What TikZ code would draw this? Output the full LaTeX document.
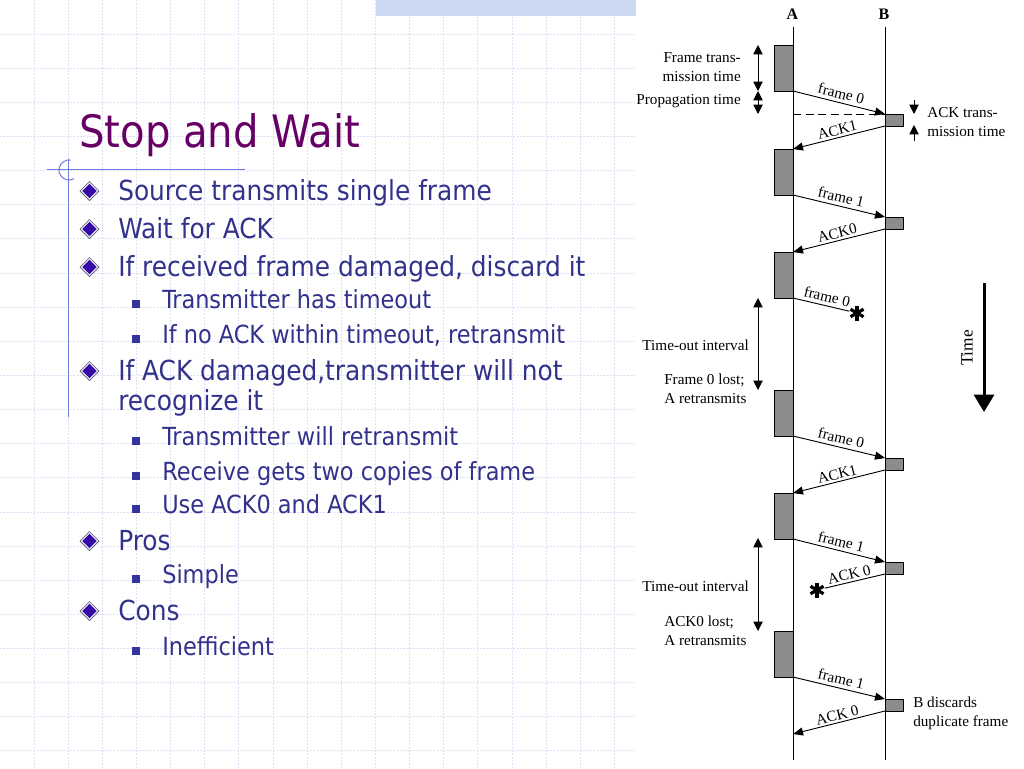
\documentclass[tikz,border=0pt]{standalone}
\usepackage{fontspec}
\setmainfont{DejaVu Sans Condensed}
\newfontfamily\serifdia{Liberation Serif}
\usetikzlibrary{arrows.meta}
\definecolor{gridc}{RGB}{221,223,245}
\definecolor{titlec}{RGB}{102,0,102}
\definecolor{bodyc}{RGB}{50,50,140}
\definecolor{decoc}{RGB}{110,125,220}
\definecolor{bandc}{RGB}{205,216,242}
\definecolor{boxc}{RGB}{140,140,140}
\definecolor{diainner}{RGB}{55,10,165}
\definecolor{diaring}{RGB}{232,232,246}
\definecolor{diaouter}{RGB}{95,95,120}
\definecolor{sqc}{RGB}{51,51,153}
\begin{document}
\begin{tikzpicture}[x=0.75pt,y=-0.75pt,
  gridline/.style={gridc, line width=0.75pt, dash pattern=on 1.5pt off 1pt},
  deco/.style={decoc, line width=0.75pt},
  titletext/.style={anchor=base west, inner sep=0, text=titlec, font=\fontsize{33.5}{36}\selectfont},
  bodyone/.style={anchor=base west, inner sep=0, text=bodyc, align=left, font=\fontsize{20.7}{22.5}\selectfont},
  bodytwo/.style={anchor=base west, inner sep=0, text=bodyc, font=\fontsize{18.7}{22}\selectfont},
  sqbullet/.style={fill=sqc, inner sep=0, minimum size=6pt},
  diab/.pic={
    \fill[diaouter] (0,-10) -- (10,0) -- (0,10) -- (-10,0) -- cycle;
    \fill[diaring] (0,-8.8) -- (8.8,0) -- (0,8.8) -- (-8.8,0) -- cycle;
    \fill[diainner] (0,-7.2) -- (7.2,0) -- (0,7.2) -- (-7.2,0) -- cycle;
  },
  abox/.style={draw=black, fill=boxc, line width=0.75pt, inner sep=0, outer sep=0, minimum width=14.25pt, minimum height=34.5pt},
  bbox/.style={draw=black, fill=boxc, line width=0.75pt, inner sep=0, outer sep=0, minimum width=13.5pt, minimum height=9pt},
  lbl/.style={inner sep=0, font=\serifdia\fontsize{11.4}{14}\selectfont},
  headlbl/.style={inner sep=0, font=\serifdia\bfseries\fontsize{12}{14}\selectfont},
  msg/.style={line width=0.7pt, -{Triangle[length=7.5pt,width=6pt]}},
  lostmsg/.style={line width=0.7pt, shorten >=6pt},
  dim/.style={line width=0.7pt, {Triangle[length=7pt,width=7pt]}-{Triangle[length=7pt,width=7pt]}},
  onedim/.style={line width=0.7pt, -{Triangle[length=7pt,width=7pt]}},
  flabel/.style={lbl, sloped, above=2.5pt, midway},
  alabel/.style={lbl, sloped, above=1.5pt, midway},
  starmark/.style={line width=2.4pt, line cap=butt}
]
\useasboundingbox (0,0) rectangle (1024,768);
\fill[white] (0,0) rectangle (1024,768);
% background grid
\foreach \i in {1,...,29} \draw[gridline] (\i*34.133,0) -- (\i*34.133,768);
\foreach \j in {1,...,22} \draw[gridline] (0,\j*34.133) -- (1024,\j*34.133);
\fill[white] (636,0) rectangle (1024,768);
\fill[bandc] (376,0) rectangle (636,16);
% decoration
\draw[deco] (47,169) -- (245,169);
\draw[deco] (68,159) -- (68,417);
\draw[deco] (69,170) ++(-80:10) arc[start angle=-80, end angle=-300, radius=10];
% title
\node[titletext] (title) at (79,147) {Stop and Wait};
% bullets level 1
\pic at (89.5,191) {diab};
\node[bodyone] (t1) at (118,200) {Source transmits single frame};
\pic at (89.5,229) {diab};
\node[bodyone] (t2) at (118,238) {Wait for ACK};
\pic at (89.5,267) {diab};
\node[bodyone] (t3) at (118,276) {If received frame damaged, discard it};
\node[sqbullet] (q1) at (135.5,304) {};
\node[bodytwo] (u1) at (162,308) {Transmitter has timeout};
\node[sqbullet] (q2) at (135.5,339) {};
\node[bodytwo] (u2) at (162,343) {If no ACK within timeout, retransmit};
\pic at (89.5,371) {diab};
\node[bodyone] (t4) at (118,410) {If ACK damaged,transmitter will not\\recognize it};
\node[sqbullet] (q3) at (135.5,441) {};
\node[bodytwo] (u3) at (162,445) {Transmitter will retransmit};
\node[sqbullet] (q4) at (135.5,476) {};
\node[bodytwo] (u4) at (162,480) {Receive gets two copies of frame};
\node[sqbullet] (q5) at (135.5,509) {};
\node[bodytwo] (u5) at (162,513) {Use ACK0 and ACK1};
\pic at (89.5,541) {diab};
\node[bodyone] (t5) at (118,550) {Pros};
\node[sqbullet] (q6) at (135.5,579) {};
\node[bodytwo] (u6) at (162,583) {Simple};
\pic at (89.5,611) {diab};
\node[bodyone] (t6) at (118,620) {Cons};
\node[sqbullet] (q7) at (135.5,651) {};
\node[bodytwo] (u7) at (162,655) {Inefficient};
% ---------- diagram ----------
\node[headlbl] (hA) at (792.5,14.5) {A};
\node[headlbl] (hB) at (884,14.5) {B};
\coordinate (Atop) at (793,27); \coordinate (Abot) at (793,760);
\coordinate (Btop) at (885,27); \coordinate (Bbot) at (885,760);
\draw[line width=0.75pt] (Atop) -- (Abot);
\draw[line width=0.75pt] (Btop) -- (Bbot);
% frames at A
\node[abox] (a1) at (783.5,68) {};
\node[abox] (a2) at (783.5,172) {};
\node[abox] (a3) at (783.5,275) {};
\node[abox] (a4) at (783.5,413) {};
\node[abox] (a5) at (783.5,516) {};
\node[abox] (a6) at (783.5,654) {};
\coordinate (a7) at (793,734);
% acks at B
\node[bbox] (b1) at (894,120) {};
\node[bbox] (b2) at (894,223) {};
\node[bbox] (b3) at (894,464) {};
\node[bbox] (b4) at (894,568) {};
\node[bbox] (b5) at (894,705) {};
% stars
\coordinate (s1) at (857,313);
\coordinate (s2) at (817,590);
\foreach \s in {s1,s2}{
  \foreach \ang in {90,30,150}{
    \draw[starmark] (\s) ++(\ang:7.5) -- ++(\ang+180:15);
  }
}
% dashed reference line
\draw[line width=0.7pt, dash pattern=on 6pt off 3.5pt] (793,114) -- (b1.north west);
% messages
\draw[msg] (a1.south east) -- node[flabel] (m1) {frame 0} (b1.north west);
\draw[msg] (b1.south west) -- node[alabel] (m2) {ACK1} (a2.north east);
\draw[msg] (a2.south east) -- node[flabel] (m3) {frame 1} (b2.north west);
\draw[msg] (b2.south west) -- node[alabel] (m4) {ACK0} (a3.north east);
\draw[lostmsg] (a3.south east) -- node[flabel] (m5) {frame 0} (s1);
\draw[msg] (a4.south east) -- node[flabel] (m6) {frame 0} (b3.north west);
\draw[msg] (b3.south west) -- node[alabel] (m7) {ACK1} (a5.north east);
\draw[msg] (a5.south east) -- node[flabel] (m8) {frame 1} (b4.north west);
\draw[lostmsg] (b4.south west) -- node[alabel] (m9) {ACK 0} (s2);
\draw[msg] (a6.south east) -- node[flabel] (m10) {frame 1} (b5.north west);
\draw[msg] (b5.south west) -- node[alabel] (m11) {ACK 0} (a7);
% dimension arrows
\coordinate (d1) at (758,45); \coordinate (d2) at (758,91); \coordinate (d3) at (758,114);
\draw[dim] (d1) -- (d2);
\draw[dim] (d2) -- (d3);
\coordinate (e1) at (914,100); \coordinate (e2) at (914,114);
\coordinate (e3) at (914,125); \coordinate (e4) at (914,141);
\draw[onedim] (e1) -- (e2);
\draw[onedim] (e4) -- (e3);
\coordinate (o1) at (758,298); \coordinate (o2) at (758,390);
\draw[dim] (o1) -- (o2);
\coordinate (o3) at (758,538); \coordinate (o4) at (758,631);
\draw[dim] (o3) -- (o4);
% side labels
\node[lbl, anchor=east, align=right] (ft) at (741,67) {Frame trans-\\mission time};
\node[lbl, anchor=east] (pt) at (741,101) {Propagation time};
\node[lbl, anchor=west, align=left] (at) at (927,122) {ACK trans-\\mission time};
\node[lbl, anchor=east] (to1) at (749,345) {Time-out interval};
\node[lbl, anchor=west, align=left] (fl) at (664,389) {Frame 0 lost;\\A retransmits};
\node[lbl, anchor=east] (to2) at (749,586) {Time-out interval};
\node[lbl, anchor=west, align=left] (al) at (664,631) {ACK0 lost;\\A retransmits};
\node[lbl, anchor=west, align=left] (bd) at (913,713) {B discards\\duplicate frame};
% time arrow
\coordinate (tt1) at (984,283); \coordinate (tt2) at (984,412);
\draw[line width=2.25pt, -{Triangle[length=13pt,width=15pt]}] (tt1) -- (tt2);
\node[inner sep=0, rotate=90, font=\serifdia\fontsize{13}{15}\selectfont] (tl) at (967,348) {Time};
\end{tikzpicture}
\end{document}
